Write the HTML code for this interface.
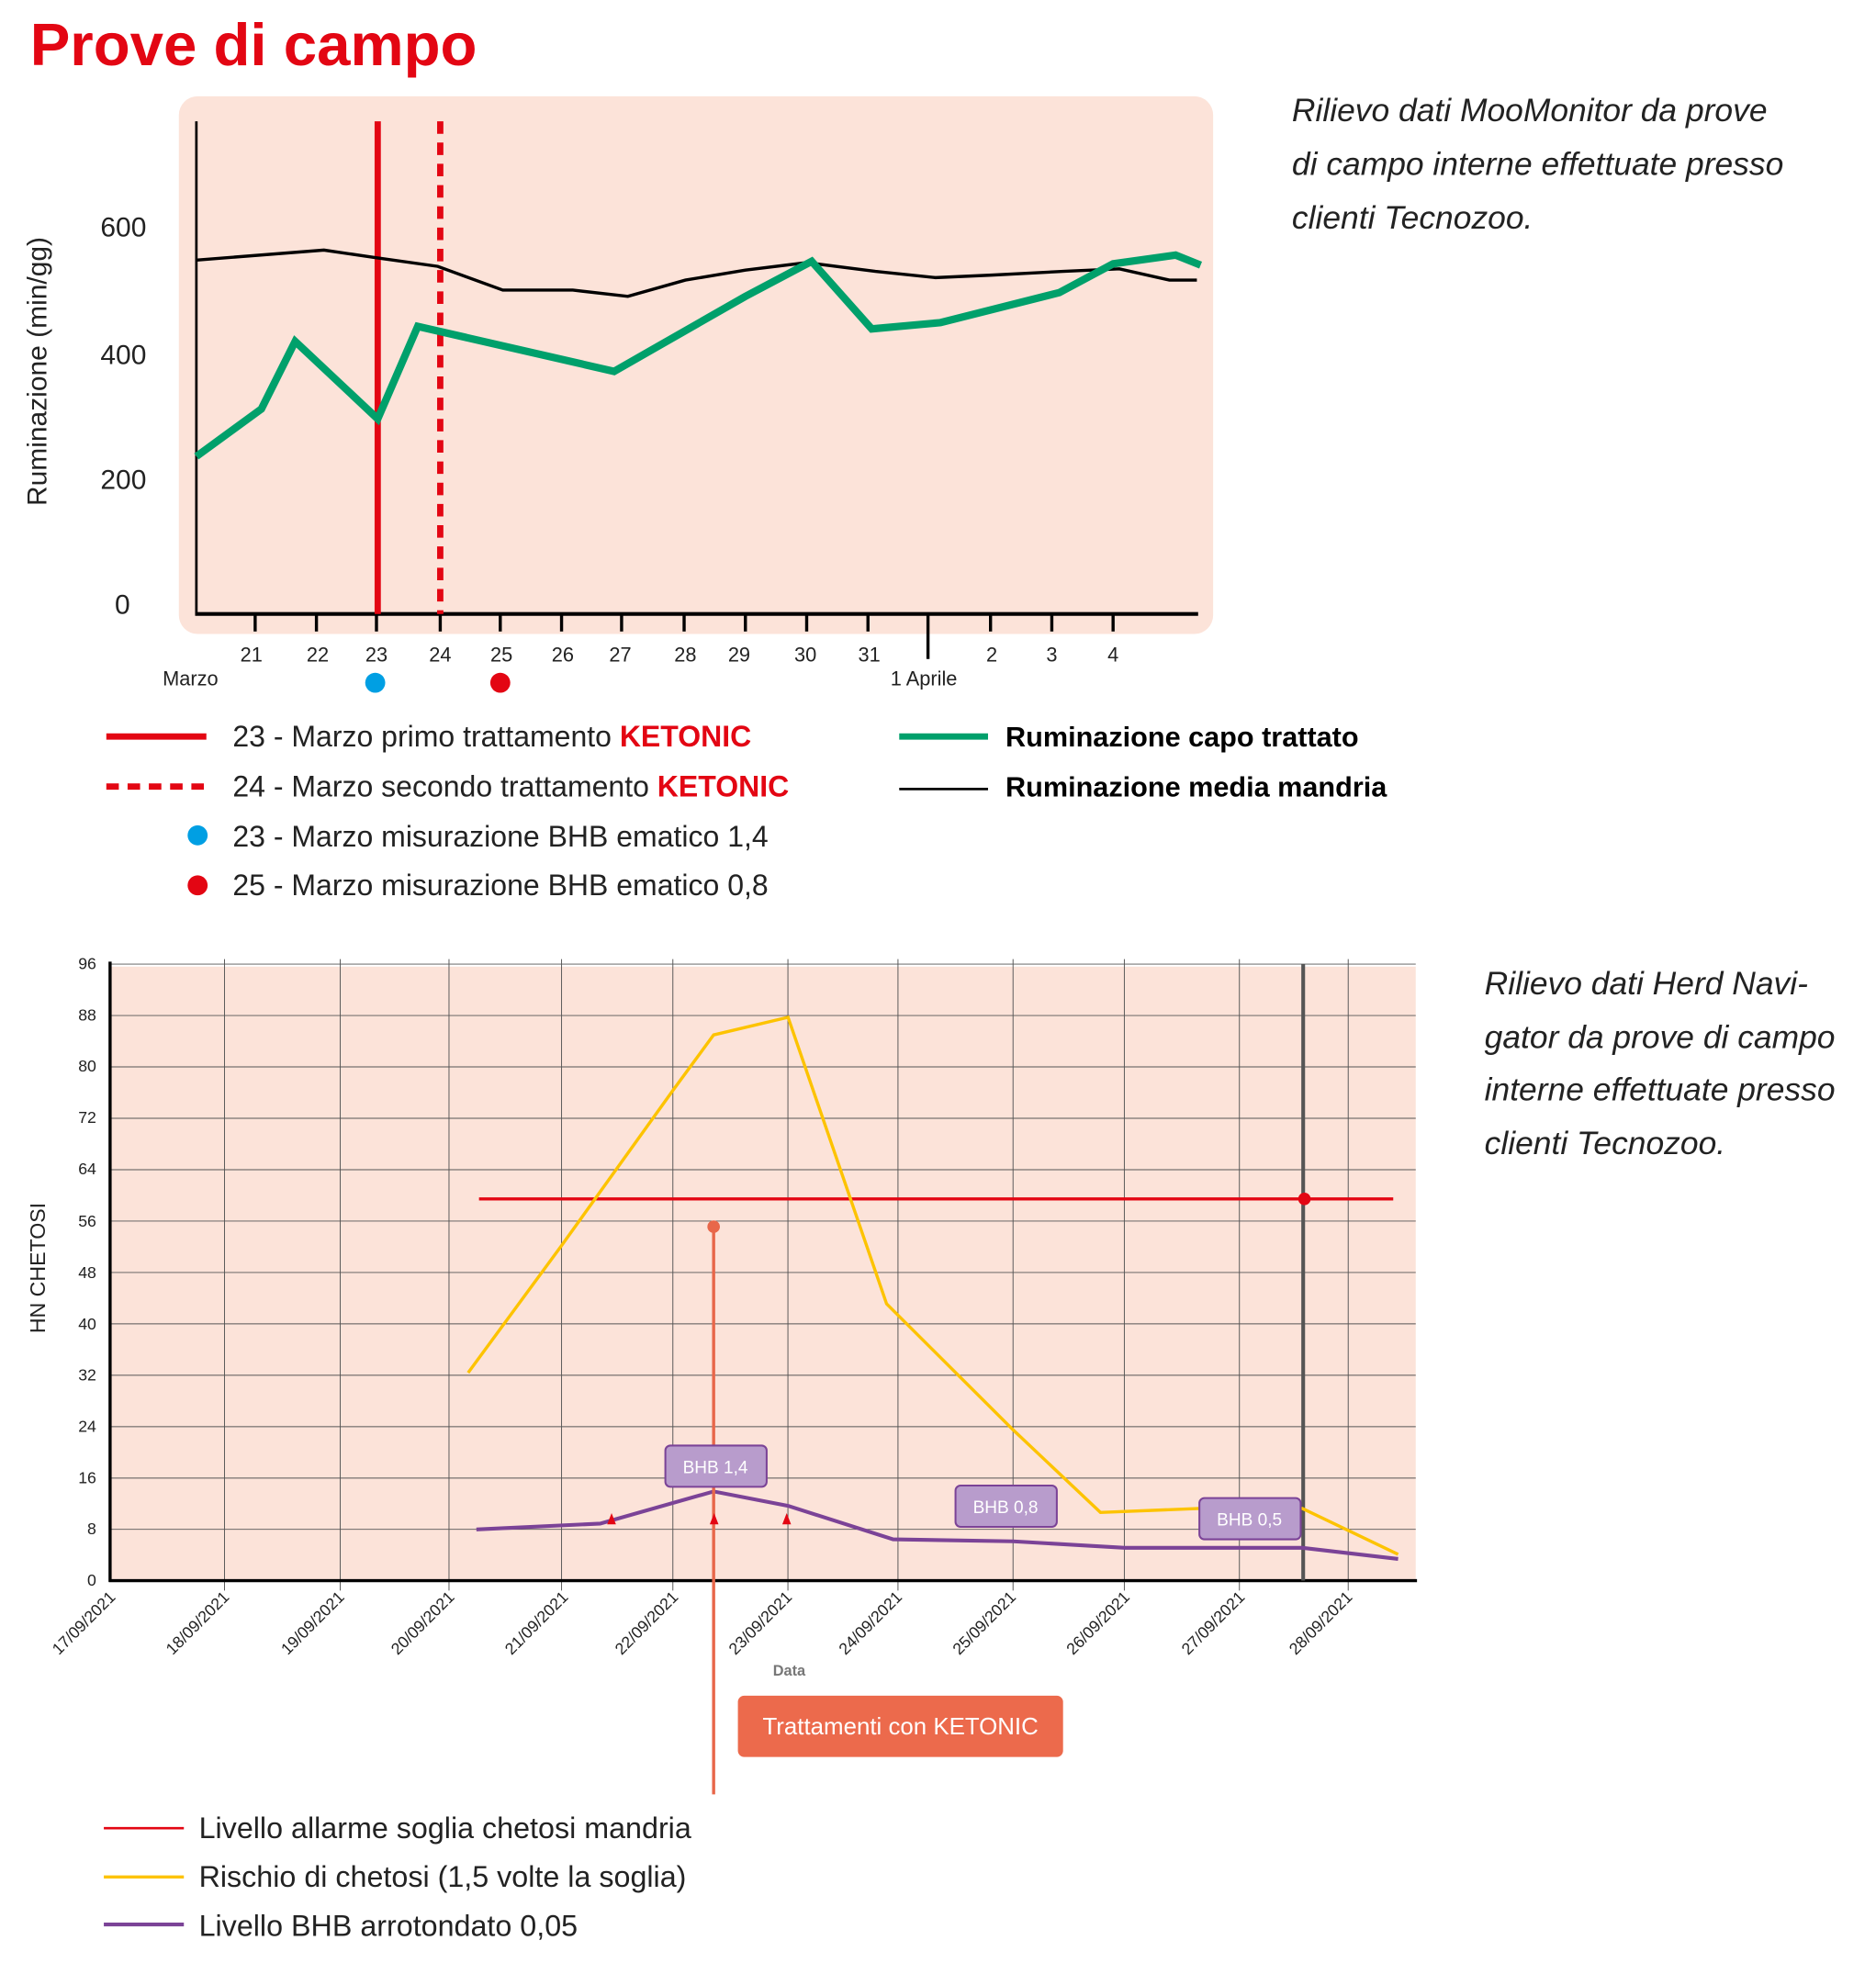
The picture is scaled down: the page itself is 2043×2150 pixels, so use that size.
<!DOCTYPE html>
<html><head><meta charset="utf-8"><style>
html,body{margin:0;padding:0;background:#fff}
svg{display:block}
text{font-family:"Liberation Sans",sans-serif}
</style></head><body>
<svg width="2043" height="2150" viewBox="0 0 1500 1578.6" xmlns="http://www.w3.org/2000/svg">
<text x="24" y="52" font-size="48" font-weight="bold" fill="#e30613">Prove di campo</text>

<!-- chart 1 -->
<rect x="143" y="77" width="827" height="430" rx="15" fill="#fce3d9"/>
<line x1="157" y1="97" x2="157" y2="491" stroke="#000" stroke-width="2"/>
<line x1="156" y1="491" x2="958" y2="491" stroke="#000" stroke-width="3"/>
<g stroke="#000" stroke-width="2.5">
<line x1="204" y1="491" x2="204" y2="505"/><line x1="253" y1="491" x2="253" y2="505"/><line x1="301" y1="491" x2="301" y2="505"/><line x1="352" y1="491" x2="352" y2="505"/><line x1="400" y1="491" x2="400" y2="505"/><line x1="449" y1="491" x2="449" y2="505"/><line x1="497" y1="491" x2="497" y2="505"/><line x1="547" y1="491" x2="547" y2="505"/><line x1="596" y1="491" x2="596" y2="505"/><line x1="645" y1="491" x2="645" y2="505"/><line x1="694" y1="491" x2="694" y2="505"/><line x1="742" y1="491" x2="742" y2="527"/><line x1="792" y1="491" x2="792" y2="505"/><line x1="841" y1="491" x2="841" y2="505"/><line x1="890" y1="491" x2="890" y2="505"/>
</g>
<g font-size="22" fill="#222" text-anchor="end">
<text x="117" y="189">600</text><text x="117" y="291">400</text><text x="117" y="391">200</text><text x="104" y="491">0</text>
</g>
<text transform="translate(37,297) rotate(-90)" font-size="22" fill="#222" text-anchor="middle">Ruminazione (min/gg)</text>
<g font-size="16" fill="#222" text-anchor="middle">
<text x="201" y="529">21</text><text x="254" y="529">22</text><text x="301" y="529">23</text><text x="352" y="529">24</text><text x="401" y="529">25</text><text x="450" y="529">26</text><text x="496" y="529">27</text><text x="548" y="529">28</text><text x="591" y="529">29</text><text x="644" y="529">30</text><text x="695" y="529">31</text><text x="793" y="529">2</text><text x="841" y="529">3</text><text x="890" y="529">4</text>
</g>
<text x="130" y="548" font-size="16" fill="#222">Marzo</text>
<text x="712" y="548" font-size="16" fill="#222">1 Aprile</text>
<circle cx="300" cy="546" r="8" fill="#009fe3"/>
<circle cx="400" cy="546" r="8" fill="#e30613"/>
<line x1="302" y1="97" x2="302" y2="491" stroke="#e30613" stroke-width="5"/>
<line x1="352" y1="97" x2="352" y2="491" stroke="#e30613" stroke-width="5" stroke-dasharray="10,7"/>
<polyline fill="none" stroke="#000" stroke-width="2.5" points="157,208 259,200 300,206 350,213 402,232 458,232 502,237 548,224 596,216 645,210 700,217 748,222 793,220 850,217 895,215 935,224 957,224"/>
<polyline fill="none" stroke="#00a06b" stroke-width="6" points="157,365 209,327 236,273 302,335 334,261 491,297 596,237 649,209 697,263 752,258 847,234 890,211 940,204 960,212"/>

<!-- legend 1 -->
<line x1="85" y1="589" x2="165" y2="589" stroke="#e30613" stroke-width="5"/>
<line x1="85" y1="629" x2="165" y2="629" stroke="#e30613" stroke-width="5" stroke-dasharray="10,7"/>
<circle cx="158" cy="668" r="8" fill="#009fe3"/>
<circle cx="158" cy="708" r="8" fill="#e30613"/>
<g font-size="23.5" fill="#222">
<text x="186" y="597">23 - Marzo primo trattamento <tspan font-weight="bold" fill="#e30613">KETONIC</tspan></text>
<text x="186" y="637">24 - Marzo secondo trattamento <tspan font-weight="bold" fill="#e30613">KETONIC</tspan></text>
<text x="186" y="677">23 - Marzo  misurazione BHB ematico 1,4</text>
<text x="186" y="716">25 - Marzo misurazione BHB ematico 0,8</text>
<text x="804" y="597" font-weight="bold" fill="#000" font-size="22.5">Ruminazione capo trattato</text>
<text x="804" y="637" font-weight="bold" fill="#000" font-size="22.5">Ruminazione media mandria</text>
</g>
<line x1="719" y1="589" x2="790" y2="589" stroke="#00a06b" stroke-width="5"/>
<line x1="719" y1="631" x2="790" y2="631" stroke="#000" stroke-width="2"/>

<g font-size="26" font-style="italic" fill="#222">
<text x="1033" y="97">Rilievo dati MooMonitor da prove</text>
<text x="1033" y="140">di campo interne effettuate presso</text>
<text x="1033" y="183">clienti Tecnozoo.</text>
<text x="1187" y="795">Rilievo dati Herd Navi-</text>
<text x="1187" y="838">gator da prove di campo</text>
<text x="1187" y="880">interne effettuate presso</text>
<text x="1187" y="923">clienti Tecnozoo.</text>
</g>

<!-- chart 2 -->
<rect x="89" y="773" width="1043" height="491" fill="#fce3d9"/>
<g stroke="#555" stroke-width="0.7">
<line x1="88" y1="771" x2="1132" y2="771"/><line x1="88" y1="812.1" x2="1132" y2="812.1"/><line x1="88" y1="853.2" x2="1132" y2="853.2"/><line x1="88" y1="894.3" x2="1132" y2="894.3"/><line x1="88" y1="935.4" x2="1132" y2="935.4"/><line x1="88" y1="976.5" x2="1132" y2="976.5"/><line x1="88" y1="1017.6" x2="1132" y2="1017.6"/><line x1="88" y1="1058.7" x2="1132" y2="1058.7"/><line x1="88" y1="1099.8" x2="1132" y2="1099.8"/><line x1="88" y1="1140.9" x2="1132" y2="1140.9"/><line x1="88" y1="1182" x2="1132" y2="1182"/><line x1="88" y1="1223" x2="1132" y2="1223"/>
<line x1="179.5" y1="767" x2="179.5" y2="1272"/><line x1="272" y1="767" x2="272" y2="1272"/><line x1="359" y1="767" x2="359" y2="1272"/><line x1="449" y1="767" x2="449" y2="1272"/><line x1="538" y1="767" x2="538" y2="1272"/><line x1="630" y1="767" x2="630" y2="1272"/><line x1="718" y1="767" x2="718" y2="1272"/><line x1="810" y1="767" x2="810" y2="1272"/><line x1="899" y1="767" x2="899" y2="1272"/><line x1="991" y1="767" x2="991" y2="1272"/><line x1="1078" y1="767" x2="1078" y2="1272"/>
</g>
<line x1="88" y1="769" x2="88" y2="1265" stroke="#000" stroke-width="2.5"/>
<line x1="87" y1="1264" x2="1133" y2="1264" stroke="#000" stroke-width="2.5"/>
<g font-size="13" fill="#222" text-anchor="end">
<text x="77" y="775">96</text><text x="77" y="816">88</text><text x="77" y="857">80</text><text x="77" y="898">72</text><text x="77" y="939">64</text><text x="77" y="981">56</text><text x="77" y="1022">48</text><text x="77" y="1063">40</text><text x="77" y="1104">32</text><text x="77" y="1145">24</text><text x="77" y="1186">16</text><text x="77" y="1227">8</text><text x="77" y="1268">0</text>
</g>
<text transform="translate(36,1014) rotate(-90)" font-size="17" fill="#222" text-anchor="middle">HN CHETOSI</text>
<g font-size="13" fill="#222" text-anchor="end">
<text transform="translate(93,1278) rotate(-45)">17/09/2021</text>
<text transform="translate(184,1278) rotate(-45)">18/09/2021</text>
<text transform="translate(276,1278) rotate(-45)">19/09/2021</text>
<text transform="translate(364,1278) rotate(-45)">20/09/2021</text>
<text transform="translate(455,1278) rotate(-45)">21/09/2021</text>
<text transform="translate(543,1278) rotate(-45)">22/09/2021</text>
<text transform="translate(634,1278) rotate(-45)">23/09/2021</text>
<text transform="translate(722,1278) rotate(-45)">24/09/2021</text>
<text transform="translate(813,1278) rotate(-45)">25/09/2021</text>
<text transform="translate(904,1278) rotate(-45)">26/09/2021</text>
<text transform="translate(996,1278) rotate(-45)">27/09/2021</text>
<text transform="translate(1082,1278) rotate(-45)">28/09/2021</text>
</g>
<text x="631" y="1340" font-size="12" font-weight="bold" fill="#777" text-anchor="middle">Data</text>

<line x1="1042" y1="771" x2="1042" y2="1264" stroke="#555" stroke-width="3"/>
<line x1="383" y1="958.8" x2="1114" y2="958.8" stroke="#e30613" stroke-width="2.5"/>
<circle cx="1043" cy="958.8" r="5" fill="#e30613"/>
<polyline fill="none" stroke="#fdc300" stroke-width="2.5" points="374.3,1097.8 449.4,995.5 537.9,872.2 570.6,827.6 630.1,813.5 708.9,1042.7 810,1143.4 879.9,1209.5 959.5,1206.3 1041.3,1206.3 1117.9,1243"/>
<polyline fill="none" stroke="#7b4397" stroke-width="3" points="380.9,1223.1 479.9,1218.4 570.6,1192.7 630.1,1204.2 714.1,1231 810,1232.6 899.3,1237.8 1041.3,1237.8 1117.9,1246.7"/>
<line x1="570.6" y1="981" x2="570.6" y2="1435" stroke="#e8674a" stroke-width="2.5"/>
<circle cx="570.6" cy="981" r="5" fill="#e8674a"/>
<g fill="#e30613">
<polygon points="489,1210 485.5,1219 492.5,1219"/><polygon points="571,1210 567.5,1219 574.5,1219"/><polygon points="629,1210 625.5,1219 632.5,1219"/>
</g>
<g fill="#b89ccc" stroke="#7b4397" stroke-width="1.5">
<rect x="532" y="1156" width="81" height="33" rx="4"/>
<rect x="764" y="1188" width="81" height="33" rx="4"/>
<rect x="959" y="1198" width="81" height="33" rx="4"/>
</g>
<g font-size="14" fill="#fff" text-anchor="middle">
<text x="572" y="1178">BHB 1,4</text><text x="804" y="1210">BHB 0,8</text><text x="999" y="1220">BHB 0,5</text>
</g>
<rect x="590" y="1356" width="260" height="49" rx="5" fill="#ec6a4c"/>
<text x="720" y="1387" font-size="19" fill="#fff" text-anchor="middle">Trattamenti con KETONIC</text>

<!-- legend 2 -->
<line x1="83" y1="1462" x2="147" y2="1462" stroke="#e30613" stroke-width="2"/>
<line x1="83" y1="1501" x2="147" y2="1501" stroke="#fdc300" stroke-width="2.5"/>
<line x1="83" y1="1539" x2="147" y2="1539" stroke="#7b4397" stroke-width="3"/>
<g font-size="23.7" fill="#222">
<text x="159" y="1470">Livello allarme soglia chetosi mandria</text>
<text x="159" y="1509">Rischio di chetosi (1,5 volte la soglia)</text>
<text x="159" y="1548">Livello BHB arrotondato 0,05</text>
</g>
</svg>
</body></html>
